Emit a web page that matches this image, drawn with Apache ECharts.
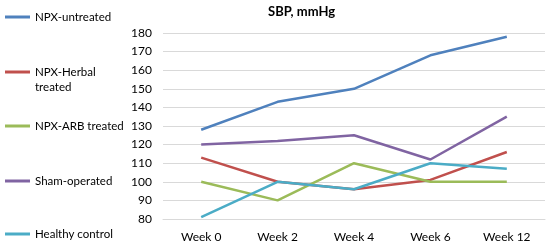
<!DOCTYPE html>
<html>
<head>
<meta charset="utf-8">
<script src="https://cdn.jsdelivr.net/npm/echarts@6/dist/echarts.min.js"></script>
<style>
  html, body { margin: 0; padding: 0; background: #fff; }
  #chart { width: 547px; height: 248px; }
</style>
</head>
<body>
<div id="chart"></div>
<script>
const weeks = ['Week 0', 'Week 2', 'Week 4', 'Week 6', 'Week 12'];
const seriesNames = ['NPX-untreated', 'NPX-Herbal treated', 'NPX-ARB treated', 'Sham-operated', 'Healthy control'];
const npxUntreated = [128, 143, 150, 168, 178];
const npxHerbal = [113, 100, 96, 101, 116];
const npxArb = [100, 90, 110, 100, 100];
const shamOperated = [120, 122, 125, 112, 135];
const healthyControl = [81, 100, 96, 110, 107];

const colors = ['#4F81BD', '#C0504D', '#9BBB59', '#8064A2', '#4BACC6'];
const values = [npxUntreated, npxHerbal, npxArb, shamOperated, healthyControl];
const font = 'Lato, "Open Sans", sans-serif';

// one legend per series so each can sit at its own height
const legendTops = [9, 64, 118, 173, 226];

const chart = echarts.init(document.getElementById('chart'));

const legends = seriesNames.map((name, i) => ({
  data: [name],
  left: 5,
  top: legendTops[i],
  padding: 0,
  icon: 'rect',
  itemWidth: 25,
  itemHeight: 3,
  itemGap: 0,
  selectedMode: false,
  // the long herbal label wraps; its second line is drawn below
  formatter: name === 'NPX-Herbal treated' ? 'NPX-Herbal' : name,
  textStyle: { fontFamily: font, fontSize: 11.5, color: '#000', lineHeight: 16 },
}));

chart.setOption({
  animation: false,
  color: colors,
  title: {
    text: 'SBP, mmHg',
    left: 263,
    top: 0,
    textStyle: { fontFamily: font, fontSize: 13, fontWeight: 'bold', color: '#000' },
  },
  legend: legends,
  graphic: [{
    type: 'text',
    left: 35,
    top: 81,
    style: { text: 'treated', fontFamily: font, fontSize: 11.5, fill: '#000' },
  }],
  grid: { left: 163, right: 2, top: 33, bottom: 29 },
  xAxis: {
    type: 'category',
    data: weeks,
    boundaryGap: true,
    axisLine: { show: true, lineStyle: { color: '#D9D9D9' } },
    axisTick: { show: false },
    axisLabel: { margin: 12, fontFamily: font, fontSize: 12, color: '#000' },
  },
  yAxis: {
    type: 'value',
    min: 80,
    max: 180,
    interval: 10,
    axisLine: { show: false },
    axisTick: { show: false },
    splitLine: { lineStyle: { color: '#D9D9D9', width: 1 } },
    axisLabel: { margin: 11, fontFamily: font, fontSize: 12, color: '#000' },
  },
  series: seriesNames.map((name, i) => ({
    name,
    type: 'line',
    data: values[i],
    symbol: 'none',
    lineStyle: { width: 2.5, color: colors[i] },
    itemStyle: { color: colors[i] },
  })),
});
</script>
</body>
</html>
